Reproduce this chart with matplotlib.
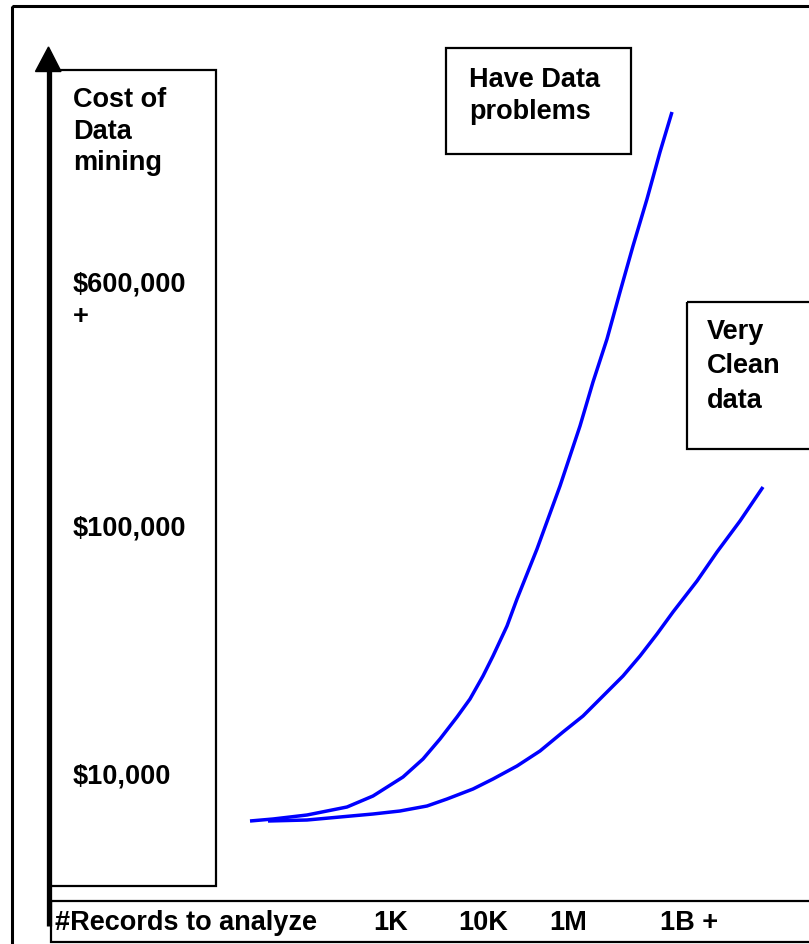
import matplotlib
matplotlib.use("Agg")
import matplotlib.pyplot as plt
from matplotlib.patches import Rectangle, Polygon

# ---- data (in canvas pixel units) ----
problems_x = [250, 273, 307, 347, 373, 403, 423, 440, 457, 470, 483, 493, 507, 517,
              537, 560, 580, 593, 607, 620, 633, 647, 660, 672]
problems_y = [822, 820, 816, 808, 797, 778, 760, 740, 718, 700, 677, 657, 627, 600,
              550, 487, 427, 383, 340, 293, 247, 200, 153, 113]

clean_x = [268, 307, 340, 373, 400, 427, 447, 473, 493, 517, 540, 563, 583, 603,
           623, 640, 657, 673, 697, 717, 740, 763]
clean_y = [822, 821, 818, 815, 812, 807, 800, 790, 780, 767, 752, 733, 717, 697,
           677, 657, 635, 613, 582, 553, 522, 488]

y_title = ["Cost of", "Data", "mining"]
y_labels = ["$600,000", "+", "$100,000", "$10,000"]
x_title = "#Records to analyze"
x_labels = ["1K", "10K", "1M", "1B +"]
note_problems = ["Have Data", "problems"]
note_clean = ["Very", "Clean", "data"]

W, H = 809, 945
fig = plt.figure(figsize=(W / 100, H / 100), dpi=100)
ax = fig.add_axes([0, 0, 1, 1])
ax.set_xlim(0, W)
ax.set_ylim(H, 0)
ax.axis("off")

FONT = dict(family=["Liberation Sans", "DejaVu Sans"], fontweight="bold",
            fontsize=19.5, color="black", va="baseline", ha="left")

def box(x0, y0, x1, y1, lw=1.6):
    ax.add_patch(Rectangle((x0, y0), x1 - x0, y1 - y0, fill=False,
                           edgecolor="black", linewidth=lw, zorder=2))

# outer frame
box(12, 7, W + 20, H + 20, lw=2.2)
# y-axis box
box(50, 71, 216, 887)
# x-axis box
box(51, 902, W + 20, 943)
# note boxes
box(446, 49, 631, 155)
box(687, 303, W + 20, 450)

# arrow (y axis)
ax.plot([49, 49], [927, 70], color="black", linewidth=3.8, solid_capstyle="butt", zorder=3)
ax.add_patch(Polygon([[35.5, 72.5], [61, 72.5], [48.5, 48]], closed=True,
                     facecolor="black", edgecolor="black", zorder=3))

# curves
ax.plot(problems_x, problems_y, color="#0000ff", linewidth=2.5, zorder=4,
        solid_joinstyle="round", solid_capstyle="butt")
ax.plot(clean_x, clean_y, color="#0000ff", linewidth=2.5, zorder=4,
        solid_joinstyle="round", solid_capstyle="butt")

# y-side texts
for s, yb in zip(y_title, [107, 139, 170]):
    ax.text(73, yb, s, **FONT)
for s, yb in zip(y_labels, [292, 324, 535, 784]):
    ax.text(73, yb, s, **FONT)

# x-side texts
ax.text(55, 930, x_title, **FONT)
for s, xp in zip(x_labels, [373, 458, 549, 660]):
    ax.text(xp, 930, s, **FONT)

# notes
for s, yb in zip(note_problems, [87, 119]):
    ax.text(469, yb, s, **FONT)
for s, yb in zip(note_clean, [339, 373, 408]):
    ax.text(707, yb, s, **FONT)

fig.savefig("out.png", dpi=100, facecolor="white")
